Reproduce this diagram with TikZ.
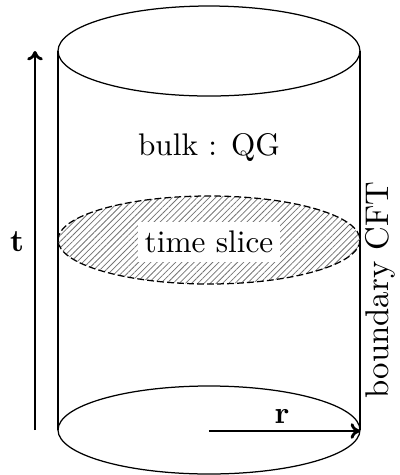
\documentclass[tikz,border=0pt]{standalone}
\usetikzlibrary{patterns.meta,arrows.meta}
\begin{document}
\begin{tikzpicture}[x=0.32pt,y=-0.32pt,
  edge/.style={line width=0.4pt},
  axis/.style={line width=0.9pt,-{To[length=3pt,width=5pt]}},
  lbl/.style={inner sep=1pt}]
\useasboundingbox (0,0) rectangle (400,475);
% cylinder
\draw[edge] (209,51) ellipse [x radius=151, y radius=45];
\draw[edge] (58,51) -- (58,430);
\draw[edge] (360,51) -- (360,430);
\draw[edge] (209,430) ellipse [x radius=151, y radius=44];
% time slice
\draw[edge, dash pattern=on 2.2pt off 1pt,
  pattern={Lines[angle=45,distance=1.4pt,line width=0.25pt]}, pattern color=black!55]
  (209,240) ellipse [x radius=151, y radius=44];
\node[fill=white, inner xsep=2pt, inner ysep=3pt] (slice) at (209,242) {time slice};
% labels
\node[lbl] (bulk) at (209,148) {bulk : QG};
\node[lbl, rotate=90] (bdry) at (380,290) {\fontsize{10.5}{12}\selectfont boundary CFT};
% t axis
\coordinate (t0) at (35,430);
\coordinate (t1) at (35,51);
\draw[axis] (t0) -- (t1);
\node[lbl] (tl) at (17,242) {$\mathbf{t}$};
% r axis
\coordinate (r0) at (209,431);
\coordinate (r1) at (360,431);
\draw[axis] (r0) -- (r1);
\node[lbl] (rl) at (282,417) {$\mathbf{r}$};
\end{tikzpicture}
\end{document}
